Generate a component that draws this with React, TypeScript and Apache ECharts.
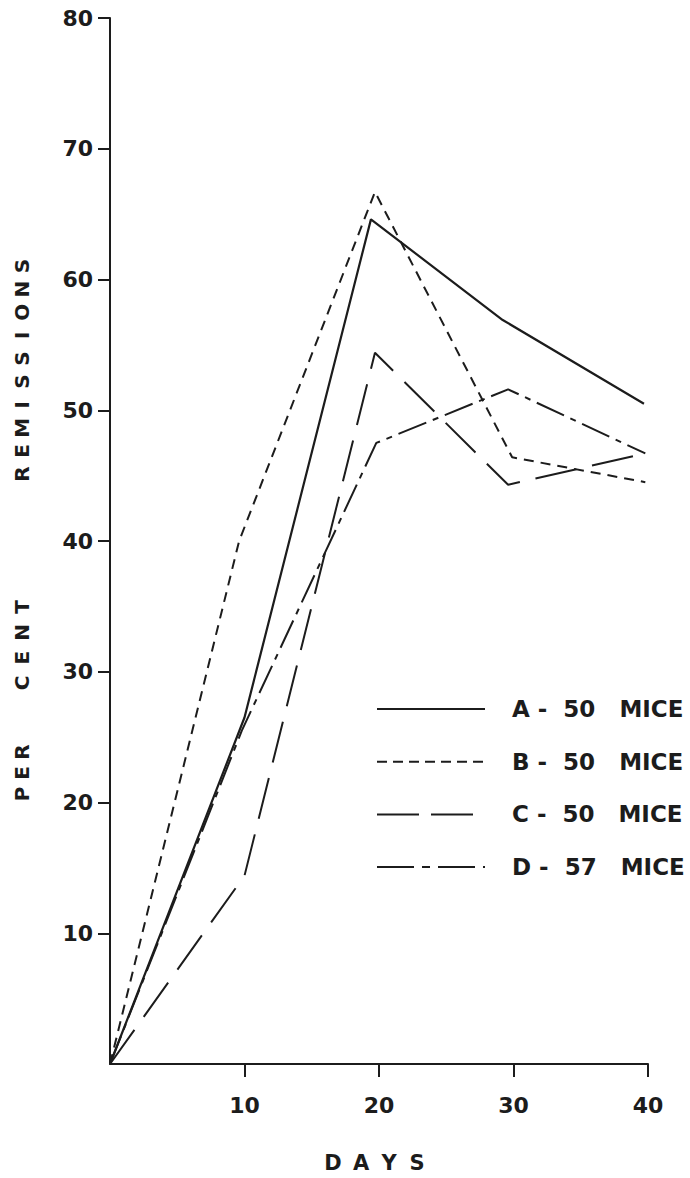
import React, { useEffect, useRef } from "react";
import * as echarts from "echarts";

// ---- data ----
const SERIES_NAMES = ["A - 50 MICE", "B - 50 MICE", "C - 50 MICE", "D - 57 MICE"];
const A_DAYS = [0, 10.0, 19.4, 29.2, 39.7];
const A_PCT = [0, 26.5, 64.6, 56.9, 50.5];
const B_DAYS = [0, 9.6, 19.7, 29.9, 39.8];
const B_PCT = [0, 40.0, 66.7, 46.4, 44.5];
const C_DAYS = [0, 10.0, 19.7, 29.6, 39.8];
const C_PCT = [0, 14.4, 54.4, 44.3, 46.7];
const D_DAYS = [0, 9.8, 19.8, 29.6, 39.8];
const D_PCT = [0, 25.5, 47.5, 51.6, 46.7];
const X_TICKS = [10, 20, 30, 40];
const Y_TICKS = [10, 20, 30, 40, 50, 60, 70, 80];
const X_TITLE = "DAYS";
const Y_TITLE_WORDS = ["PER", "CENT", "REMISSIONS"];

const INK = "#1c1c1c";
const FONT = "DejaVu Sans";
const NB = "\u00a0";

function legendLabel(name: string): string {
  const [letter, rest] = name.split(" - ");
  const [num, word] = rest.split(" ");
  return letter + NB + "-" + NB + NB + num + NB + NB + NB + word;
}

function pairs(xs: number[], ys: number[]) {
  return xs.map((x, i) => [x, ys[i]]);
}

function letters(word: string, x0: number, y0: number, x1: number, y1: number, rotate: boolean, size: number) {
  const n = word.length;
  return word.split("").map((ch, i) => {
    const t = n === 1 ? 0 : i / (n - 1);
    return {
      type: "text",
      x: x0 + (x1 - x0) * t,
      y: y0 + (y1 - y0) * t,
      rotation: rotate ? Math.PI / 2 : 0,
      style: {
        text: ch,
        fill: INK,
        font: `bold ${size}px "${FONT}"`,
        textAlign: "center",
        textVerticalAlign: "middle",
      },
    };
  });
}

export default function App() {
  const ref = useRef<HTMLDivElement>(null);

  useEffect(() => {
    if (!ref.current) return;
    const chart = echarts.init(ref.current, null, { renderer: "svg" });

    const dashes: any[] = ["solid", [10, 7], [42, 16], [30, 7, 6, 7]];
    const legendDashes: any[] = [null, [10, 6], [42, 12], [37, 8, 8, 8]];
    const widths = [2.2, 2, 2, 2];
    const datasets = [
      pairs(A_DAYS, A_PCT),
      pairs(B_DAYS, B_PCT),
      pairs(C_DAYS, C_PCT),
      pairs(D_DAYS, D_PCT),
    ];

    const series = SERIES_NAMES.map((name, i) => ({
      name,
      type: "line",
      data: datasets[i],
      showSymbol: false,
      symbol: "none",
      lineStyle: { color: INK, width: widths[i], type: dashes[i] },
      itemStyle: { color: INK },
    }));

    const legendItems: any[] = [];
    SERIES_NAMES.forEach((name, i) => {
      const y = 709 + i * 52.7;
      legendItems.push({
        type: "line",
        shape: { x1: 377, y1: y, x2: 485, y2: y },
        style: {
          stroke: INK,
          lineWidth: 2,
          lineDash: legendDashes[i] || undefined,
        },
      });
      legendItems.push({
        type: "text",
        x: 512,
        y,
        style: {
          text: legendLabel(name),
          fill: INK,
          font: `bold 23px "${FONT}"`,
          textAlign: "left",
          textVerticalAlign: "middle",
        },
      });
    });

    const graphic: any[] = [
      ...letters(Y_TITLE_WORDS[2], 22, 474, 22, 266, true, 20),
      ...letters(Y_TITLE_WORDS[1], 22, 683, 22, 607, true, 20),
      ...letters(Y_TITLE_WORDS[0], 22, 794, 22, 752, true, 20),
      ...letters(X_TITLE, 333, 1163, 417, 1163, false, 21),
      ...legendItems,
    ];

    chart.setOption({
      animation: false,
      backgroundColor: "#ffffff",
      grid: { left: 110, top: 18, width: 538, height: 1046, containLabel: false },
      xAxis: {
        type: "value",
        min: 0,
        max: 40,
        interval: 10,
        splitLine: { show: false },
        axisLine: { show: true, onZero: false, lineStyle: { color: INK, width: 2 } },
        axisTick: { show: true, length: 13, inside: false, customValues: X_TICKS, lineStyle: { color: INK, width: 2 } },
        axisLabel: {
          customValues: X_TICKS,
          margin: 30,
          color: INK,
          fontFamily: FONT,
          fontWeight: "bold",
          fontSize: 22,
        },
      },
      yAxis: {
        type: "value",
        min: 0,
        max: 80,
        interval: 10,
        splitLine: { show: false },
        axisLine: { show: true, onZero: false, lineStyle: { color: INK, width: 2 } },
        axisTick: { show: true, length: 12, inside: false, customValues: Y_TICKS, lineStyle: { color: INK, width: 2 } },
        axisLabel: {
          customValues: Y_TICKS,
          margin: 17,
          color: INK,
          fontFamily: FONT,
          fontWeight: "bold",
          fontSize: 22,
        },
      },
      series,
      graphic,
    });

    return () => chart.dispose();
  }, []);

  return (
    <div
      ref={ref}
      style={{ position: "absolute", left: 0, top: 0, width: 690, height: 1178, background: "#fff" }}
    />
  );
}
